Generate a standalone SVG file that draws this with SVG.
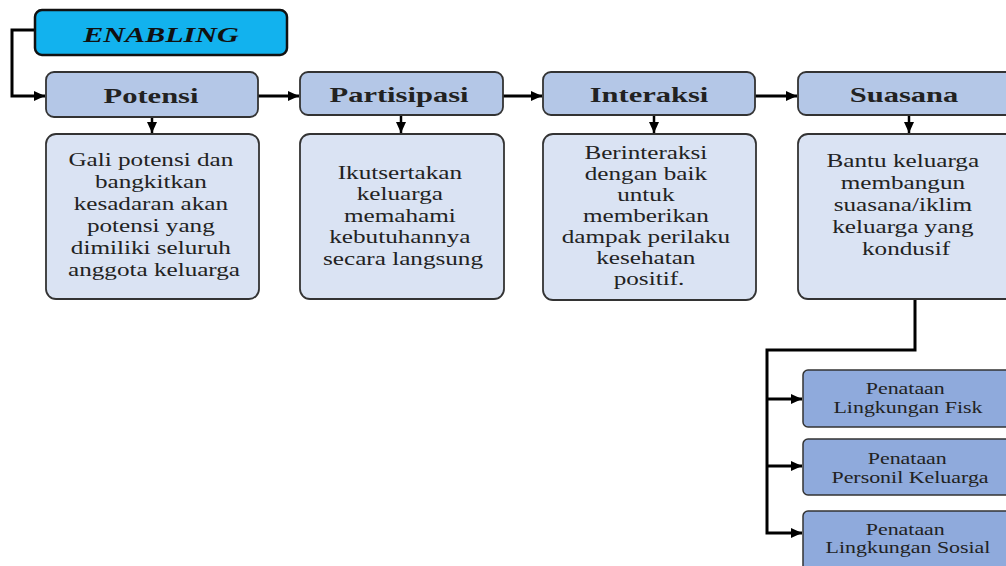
<svg xmlns="http://www.w3.org/2000/svg" width="1006" height="566" viewBox="0 0 1006 566">
  <defs>
    <marker id="arr" markerUnits="userSpaceOnUse" markerWidth="12" markerHeight="12" refX="11" refY="6" orient="auto">
      <path d="M0,1 L11,6 L0,11 z" fill="#000"/>
    </marker>
    <style>
      .enab { fill: #12B2EE; stroke: #111; stroke-width: 2.5; }
      .head { fill: #B4C7E7; stroke: #333; stroke-width: 1.8; }
      .det { fill: #DAE3F3; stroke: #333; stroke-width: 1.8; }
      .sub { fill: #8FAADC; stroke: #333; stroke-width: 1.5; }
      .t-head { font-family: "Liberation Serif", "Times New Roman", serif; font-weight: bold; font-size: 21.5px; fill: #222; text-anchor: middle; }
      .t-enab { font-family: "Liberation Serif", "Times New Roman", serif; font-weight: bold; font-style: italic; font-size: 22px; fill: #111; text-anchor: middle; }
      .t-det { font-family: "Liberation Serif", "Times New Roman", serif; font-size: 18.5px; fill: #222; text-anchor: middle; }
      .t-sub { font-family: "Liberation Serif", "Times New Roman", serif; font-size: 16px; fill: #222; text-anchor: middle; }
      .conn { fill: none; stroke: #000; stroke-width: 3; }
      .conn2 { fill: none; stroke: #000; stroke-width: 2.5; }
    </style>
  </defs>

  <g id="connectors">
    <path class="conn" d="M35,30 H12 V96 H45" marker-end="url(#arr)"/>
    <path class="conn" d="M258,96 H299" marker-end="url(#arr)"/>
    <path class="conn" d="M503,96 H542" marker-end="url(#arr)"/>
    <path class="conn" d="M755,96 H797" marker-end="url(#arr)"/>
    <path class="conn2" d="M152,117 V133" marker-end="url(#arr)"/>
    <path class="conn2" d="M401,115 V133" marker-end="url(#arr)"/>
    <path class="conn2" d="M654,115 V133" marker-end="url(#arr)"/>
    <path class="conn2" d="M909,115 V133" marker-end="url(#arr)"/>
    <path class="conn" d="M915,299 V350 H767 V533 H802" marker-end="url(#arr)"/>
    <path class="conn" d="M767,399 H802" marker-end="url(#arr)"/>
    <path class="conn" d="M767,466 H802" marker-end="url(#arr)"/>
  </g>

  <g id="enabling">
    <rect class="enab" x="35" y="10" width="252" height="45" rx="7"/>
    <text class="t-enab" transform="translate(161,0) scale(1.37,1)" x="0" y="42">ENABLING</text>
  </g>

  <g id="potensi">
    <rect class="head" x="46" y="72" width="212" height="45" rx="8"/>
    <text class="t-head" transform="translate(151,0) scale(1.42,1)" x="0" y="103">Potensi</text>
  </g>
  <g id="partisipasi">
    <rect class="head" x="300" y="72" width="203" height="43" rx="8"/>
    <text class="t-head" transform="translate(399,0) scale(1.42,1)" x="0" y="102">Partisipasi</text>
  </g>
  <g id="interaksi">
    <rect class="head" x="543" y="72" width="212" height="43" rx="8"/>
    <text class="t-head" transform="translate(649,0) scale(1.42,1)" x="0" y="102">Interaksi</text>
  </g>
  <g id="suasana">
    <rect class="head" x="798" y="72" width="230" height="43" rx="8"/>
    <text class="t-head" transform="translate(904,0) scale(1.42,1)" x="0" y="102">Suasana</text>
  </g>

  <g id="potensi-detail">
    <rect class="det" x="46" y="134" width="213" height="165" rx="10"/>
    <text class="t-det" transform="translate(154,0) scale(1.36,1)">
      <tspan x="0" y="166">Gali potensi dan</tspan>
      <tspan x="0" y="188">bangkitkan</tspan>
      <tspan x="0" y="210">kesadaran akan</tspan>
      <tspan x="0" y="232">potensi yang</tspan>
      <tspan x="0" y="254">dimiliki seluruh</tspan>
      <tspan x="0" y="276">anggota keluarga</tspan>
    </text>
  </g>
  <g id="partisipasi-detail">
    <rect class="det" x="300" y="134" width="204" height="165" rx="10"/>
    <text class="t-det" transform="translate(403,0) scale(1.36,1)">
      <tspan x="0" y="179">Ikutsertakan</tspan>
      <tspan x="0" y="200.5">keluarga</tspan>
      <tspan x="0" y="222">memahami</tspan>
      <tspan x="0" y="243.5">kebutuhannya</tspan>
      <tspan x="0" y="265">secara langsung</tspan>
    </text>
  </g>
  <g id="interaksi-detail">
    <rect class="det" x="543" y="134" width="213" height="166" rx="10"/>
    <text class="t-det" transform="translate(649,0) scale(1.36,1)">
      <tspan x="0" y="159">Berinteraksi</tspan>
      <tspan x="0" y="180">dengan baik</tspan>
      <tspan x="0" y="201">untuk</tspan>
      <tspan x="0" y="222">memberikan</tspan>
      <tspan x="0" y="243">dampak perilaku</tspan>
      <tspan x="0" y="264">kesehatan</tspan>
      <tspan x="0" y="285">positif.</tspan>
    </text>
  </g>
  <g id="suasana-detail">
    <rect class="det" x="798" y="134" width="230" height="165" rx="10"/>
    <text class="t-det" transform="translate(906,0) scale(1.36,1)">
      <tspan x="0" y="167">Bantu keluarga</tspan>
      <tspan x="0" y="189">membangun</tspan>
      <tspan x="0" y="211">suasana/iklim</tspan>
      <tspan x="0" y="233">keluarga yang</tspan>
      <tspan x="0" y="255">kondusif</tspan>
    </text>
  </g>

  <g id="penataan-fisik">
    <rect class="sub" x="803" y="370" width="225" height="57" rx="5"/>
    <text class="t-sub" transform="translate(908,0) scale(1.37,1)">
      <tspan x="0" y="394">Penataan</tspan>
      <tspan x="0" y="413">Lingkungan Fisk</tspan>
    </text>
  </g>
  <g id="penataan-personil">
    <rect class="sub" x="803" y="439" width="225" height="56" rx="5"/>
    <text class="t-sub" transform="translate(910,0) scale(1.37,1)">
      <tspan x="0" y="464">Penataan</tspan>
      <tspan x="0" y="483">Personil Keluarga</tspan>
    </text>
  </g>
  <g id="penataan-sosial">
    <rect class="sub" x="803" y="511" width="225" height="70" rx="5"/>
    <text class="t-sub" transform="translate(908,0) scale(1.37,1)">
      <tspan x="0" y="535">Penataan</tspan>
      <tspan x="0" y="553">Lingkungan Sosial</tspan>
    </text>
  </g>
</svg>
